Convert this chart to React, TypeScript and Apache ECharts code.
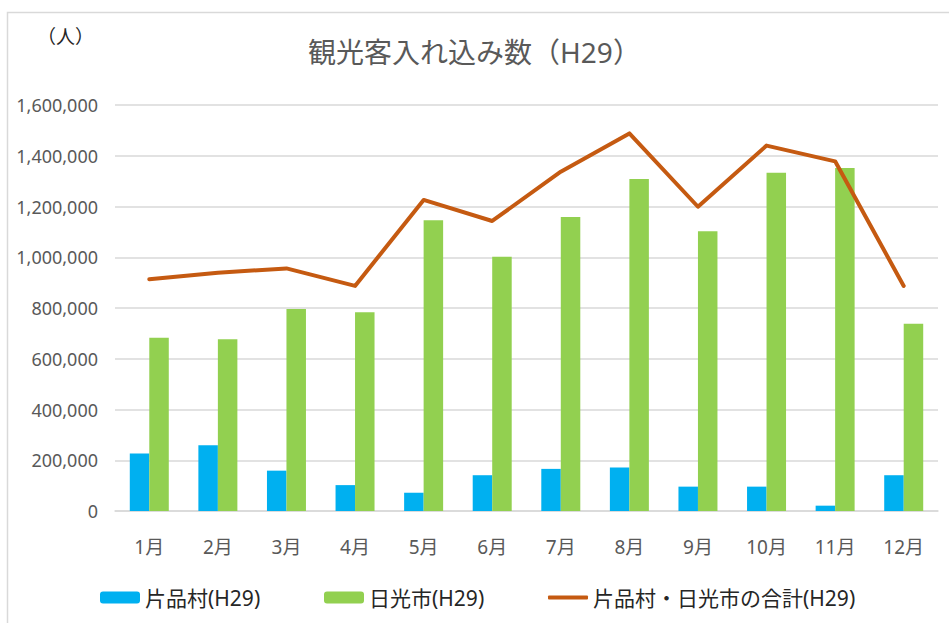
import React, { useEffect, useRef } from "react";
import * as echarts from "echarts";

const months = ["1月", "2月", "3月", "4月", "5月", "6月", "7月", "8月", "9月", "10月", "11月", "12月"];
const katashina = [227000, 259000, 159000, 102000, 72000, 141000, 166000, 171000, 96000, 96000, 21000, 141000];
const nikko = [683000, 677000, 796000, 783000, 1146000, 1002000, 1159000, 1308000, 1102000, 1333000, 1352000, 738000];
const total = [913000, 939000, 956000, 887000, 1226000, 1143000, 1337000, 1488000, 1199000, 1440000, 1378000, 887000];
const seriesNames = ["片品村(H29)", "日光市(H29)", "片品村・日光市の合計(H29)"];
const titleText = "観光客入れ込み数（H29）";
const unitText = "（人）";

const FONT = "'Noto Sans', 'Noto Sans CJK JP', sans-serif";

export default function App() {
  const ref = useRef<HTMLDivElement>(null);
  useEffect(() => {
    if (!ref.current) return;
    const chart = echarts.init(ref.current, undefined, { renderer: "svg" });
    const legendBase = {
      top: 587,
      padding: 0,
      itemWidth: 40,
      itemHeight: 12,
      textStyle: { fontSize: 21, color: "#262626", fontFamily: FONT },
    };
    chart.setOption({
      animation: false,
      backgroundColor: "#ffffff",
      title: {
        text: titleText,
        left: "center",
        top: 33,
        textStyle: { fontSize: 28, fontWeight: "normal", color: "#595959", fontFamily: FONT },
      },
      graphic: [
        {
          type: "rect",
          shape: { x: 7.5, y: 12.5, width: 960, height: 640 },
          style: { fill: "none", stroke: "#D9D9D9", lineWidth: 1.5 },
          silent: true,
        },
        {
          type: "text",
          left: 37,
          top: 27,
          style: { text: unitText, fontSize: 19, fill: "#262626", fontFamily: FONT },
        },
      ],
      legend: [
        { ...legendBase, left: 100, data: [seriesNames[0]] },
        { ...legendBase, left: 324, data: [seriesNames[1]] },
        {
          ...legendBase,
          left: 548,
          itemHeight: 4,
          data: [{ name: seriesNames[2], icon: "roundRect", itemStyle: { color: "#C55A11" } }],
        },
      ],
      grid: { left: 115, right: 11, top: 105, bottom: 112, containLabel: false },
      xAxis: {
        type: "category",
        data: months,
        axisLine: { show: true, lineStyle: { color: "#D9D9D9", width: 1.5 } },
        axisTick: { show: false },
        axisLabel: { fontSize: 19, color: "#595959", margin: 26, fontFamily: FONT },
      },
      yAxis: {
        type: "value",
        min: 0,
        max: 1600000,
        interval: 200000,
        axisLine: { show: false },
        axisTick: { show: false },
        splitLine: { lineStyle: { color: "#D9D9D9", width: 1.5 } },
        axisLabel: {
          fontSize: 18,
          color: "#595959",
          margin: 17,
          fontFamily: FONT,
          formatter: (v: number) => v.toLocaleString("en-US"),
        },
      },
      series: [
        {
          name: seriesNames[0],
          type: "bar",
          data: katashina,
          barWidth: 19.5,
          barGap: "0%",
          itemStyle: { color: "#00B0F0" },
        },
        {
          name: seriesNames[1],
          type: "bar",
          data: nikko,
          barWidth: 19.5,
          barGap: "0%",
          itemStyle: { color: "#92D050" },
        },
        {
          name: seriesNames[2],
          type: "line",
          data: total,
          symbol: "none",
          lineStyle: { color: "#C55A11", width: 4, join: "round", cap: "round" },
          itemStyle: { color: "#C55A11" },
        },
      ],
    });
    return () => chart.dispose();
  }, []);
  return (
    <div
      ref={ref}
      style={{ position: "absolute", left: 0, top: 0, width: 949, height: 623 }}
    />
  );
}
